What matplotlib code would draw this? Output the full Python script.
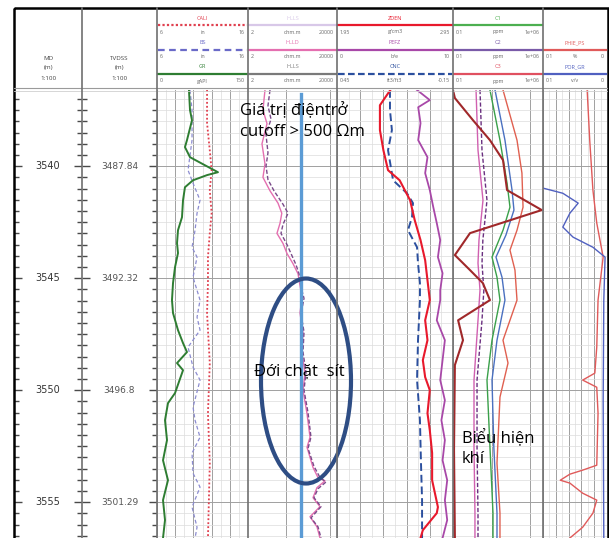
import matplotlib.pyplot as plt
from matplotlib.patches import Ellipse, Rectangle
from matplotlib.ticker import MultipleLocator, LogLocator

plt.rcParams['font.family'] = ['Open Sans', 'DejaVu Sans']
NARROW = ['Liberation Sans Narrow', 'DejaVu Sans']

W, H = 609, 538
fig = plt.figure(figsize=(W / 100, H / 100), dpi=100)

# layout in pixels
HEAD_TOP, HEAD_BOT = 8, 88
LOG_TOP, LOG_BOT = 90, 538
EDGES = [14, 82, 157, 248, 337, 453, 543, 607]
D_TOP, D_BOT = 3536.6, 3556.6

# depth ruler
md_marks = [3540, 3545, 3550, 3555]
tvd_marks = ['3487.84', '3492.32', '3496.8', '3501.29']

# track 1: GR / caliper / bit size
gr_depth = [3536.6, 3537.5, 3537.95, 3538.84, 3539.15, 3539.6, 3539.96, 3540.27, 3540.4,
            3540.63, 3540.94, 3541.52, 3542.28, 3542.86, 3543.44, 3543.88, 3544.51, 3545.22,
            3545.98, 3546.56, 3547.32, 3547.9, 3548.3, 3548.79, 3549.11, 3550.13, 3550.58,
            3551.34, 3552.23, 3553.13, 3554.02, 3554.91, 3555.8, 3556.6]
gr = [52.7, 54.4, 57.7, 49.4, 46.1, 54.4, 79.1, 100.5, 82.4, 59.3, 46.1, 42.9, 41.2, 34.6,
      33.0, 34.6, 29.7, 26.4, 24.7, 26.4, 34.6, 42.9, 49.4, 33.0, 42.9, 29.7, 18.1, 13.2,
      16.5, 9.9, 18.1, 9.9, 13.2, 9.9]

cali_depth = [3536.6, 3538.08, 3539.29, 3540.18, 3541.07, 3542.1, 3542.99, 3544.06, 3545.22,
              3546.56, 3548.79, 3551.03, 3553.26, 3556.6]
cali = [11.5, 11.5, 11.8, 12.0, 11.8, 12.0, 11.8, 11.6, 11.6, 11.5, 11.8, 11.6, 11.8, 11.6]

bs_depth = [3536.6, 3537.5, 3538.84, 3540.18, 3540.76, 3541.52, 3542.1, 3542.86, 3543.62,
            3544.06, 3544.96, 3545.98, 3546.74, 3547.32, 3548.08, 3548.97, 3549.55, 3550.76,
            3551.34, 3552.1, 3552.81, 3553.71, 3554.33, 3555.22, 3556.12, 3556.6]
bs = [9.63, 9.85, 9.85, 9.41, 9.96, 10.73, 10.40, 10.18, 9.85, 10.40, 9.96, 10.73, 10.40,
      10.73, 9.41, 9.96, 10.73, 9.96, 10.18, 10.73, 9.85, 9.96, 10.73, 9.85, 10.40, 10.18]

# track 2: resistivity
hlld_depth = [3536.6, 3537.5, 3538.1, 3539.0, 3539.9, 3540.5, 3541.1, 3541.65, 3542.1, 3542.55,
              3543.0, 3543.45, 3543.9, 3544.35, 3544.8, 3545.85, 3546.55, 3547.45, 3548.35,
              3549.25, 3550.0, 3551.05, 3552.1, 3552.55, 3553.45, 3553.9, 3554.05, 3554.35,
              3554.8, 3555.2, 3555.65, 3556.1, 3556.6]
hlld = [11.6, 9.4, 14.3, 8.5, 11.6, 9.4, 19.5, 44.6, 66, 55, 40, 75, 113, 210, 353, 535, 435,
        593, 535, 730, 593, 898, 1225, 898, 1670, 2800, 5780, 2520, 1670, 3440, 1225, 2520, 3440]

hlls_depth = [3536.6, 3537.3, 3537.9, 3538.6, 3539.4, 3540.0, 3540.6, 3541.1, 3541.7, 3542.1,
              3542.6, 3543.0, 3543.5, 3543.9, 3544.4, 3544.8, 3545.4, 3545.9, 3546.6, 3547.4,
              3548.3, 3549.2, 3550.0, 3551.0, 3552.1, 3552.6, 3553.4, 3553.9, 3554.1, 3554.4,
              3554.8, 3555.2, 3555.7, 3556.1, 3556.6]
hlls = [19.5, 15.8, 21.6, 12.9, 15.8, 12.9, 15.8, 29.5, 74.8, 126, 74.8, 60.8, 113, 171, 287,
        392, 482, 658, 482, 658, 593, 809, 658, 995, 1355, 995, 1850, 3440, 6410, 2800, 1850,
        3820, 1355, 2800, 3820]

CUTOFF = 500  # ohm.m

# track 3: density / PEF / neutron
den_depth = [3536.6, 3537.28, 3538.39, 3539.29, 3540.18, 3540.63, 3541.52, 3542.41, 3543.3,
             3544.2, 3545.09, 3545.98, 3546.88, 3547.77, 3548.66, 3549.42, 3550.0, 3551.03,
             3551.79, 3552.81, 3554.02, 3555.22, 3555.49, 3556.25, 3556.6]
zden = [2.41, 2.32, 2.32, 2.35, 2.39, 2.49, 2.58, 2.62, 2.67, 2.71, 2.73, 2.75, 2.71, 2.73,
        2.69, 2.71, 2.75, 2.73, 2.75, 2.77, 2.77, 2.82, 2.81, 2.69, 2.67]

cnc_depth = [3536.6, 3537.5, 3538.39, 3539.29, 3540.63, 3541.21, 3541.65, 3542.28, 3542.86,
             3543.62, 3544.33, 3545.22, 3545.98, 3547.77, 3549.55, 3551.34, 3553.13, 3554.91,
             3556.6]
cnc = [0.176, 0.176, 0.166, 0.186, 0.160, 0.088, 0.057, 0.062, 0.083, 0.036, 0.031, 0.021,
       0.021, 0.031, 0.036, 0.021, 0.016, 0.010, 0.010]

pef_depth = [3536.6, 3537.05, 3537.37, 3538.08, 3538.84, 3539.6, 3540.31, 3541.07, 3541.83,
             3542.54, 3543.3, 3544.06, 3544.78, 3545.54, 3545.98, 3546.88, 3547.77, 3548.66,
             3549.55, 3550.45, 3551.34, 3552.23, 3553.13, 3554.02, 3554.91, 3555.8, 3556.6]
pefz = [6.9, 8.0, 7.0, 7.2, 7.0, 7.8, 7.6, 8.0, 8.3, 8.6, 8.9, 8.7, 9.1, 8.9, 8.9, 8.6, 9.3,
        9.1, 8.9, 9.3, 9.0, 9.3, 9.1, 9.5, 9.3, 9.5, 9.1]

# track 4: mud gas (ppm)
tg_depth = [3536.6, 3536.96, 3537.95, 3538.84, 3539.73, 3541.07, 3541.96, 3542.99, 3543.97,
            3544.64, 3545.22, 3545.98, 3546.88, 3547.77, 3548.88, 3552.68, 3556.6]
tg = [0.1, 0.14, 3.6, 75, 775, 1600, 800000, 2.1, 0.14, 2.1, 21, 75, 0.25, 0.6, 0.14, 0.12, 0.14]

c1_depth = [3536.6, 3538.84, 3540.76, 3541.83, 3542.86, 3544.06, 3544.96, 3545.98, 3547.77,
            3549.55, 3552.54, 3555.49, 3556.6]
c1 = [75, 450, 1600, 2700, 775, 108, 264, 450, 108, 44, 75, 129, 129]

c2_depth = [3536.6, 3539.29, 3541.52, 3543.3, 3544.33, 3545.54, 3546.88, 3549.55, 3552.54,
            3555.49, 3556.6]
c2 = [12.6, 18, 44, 21, 18, 25, 18, 7.4, 7.4, 8.8, 8.8]

c3_depth = [3536.6, 3538.84, 3540.31, 3541.83, 3542.86, 3543.75, 3544.64, 3545.98, 3547.77,
            3548.79, 3550.31, 3553.26, 3555.49, 3556.6]
c3 = [775, 9500, 23000, 28000, 9500, 2700, 6600, 9500, 775, 1900, 450, 264, 450, 450]

c4_depth = [3536.6, 3538.84, 3541.07, 3541.96, 3543.08, 3544.06, 3544.96, 3545.98, 3547.77,
            3549.55, 3552.54, 3555.49, 3556.6]
c4 = [185, 1100, 3900, 5500, 1300, 220, 650, 1100, 264, 108, 150, 264, 264]

c5_depth = [3536.6, 3539.29, 3541.52, 3543.3, 3544.33, 3545.54, 3546.88, 3549.55, 3552.54,
            3555.49, 3556.6]
c5 = [6.2, 8.8, 21.5, 10.5, 8.8, 12.6, 8.8, 4.3, 4.3, 5.1, 5.1]

# track 5: porosity
por_depth = [3540.98, 3541.21, 3541.65, 3542.1, 3542.72, 3543.17, 3543.62, 3544.06, 3545.98,
             3550.45, 3556.6]
por_gr = [0.100, 0.069, 0.045, 0.058, 0.069, 0.053, 0.022, 0.003, 0.005, 0.006, 0.005]

phie_depth = [3536.6, 3538.84, 3541.07, 3542.54, 3544.06, 3545.98, 3548.08, 3549.24, 3549.55,
              3549.87, 3551.03, 3553.35, 3553.57, 3553.75, 3554.02, 3554.15, 3554.6, 3554.91,
              3555.49, 3556.12, 3556.6]
phie = [0.031, 0.027, 0.022, 0.016, 0.006, 0.014, 0.016, 0.019, 0.038, 0.016, 0.014, 0.016,
        0.038, 0.058, 0.073, 0.058, 0.038, 0.016, 0.022, 0.038, 0.058]


def rect(x0, x1, y0=LOG_TOP, y1=LOG_BOT):
    # pixel box -> figure fraction
    return [x0 / W, 1 - y1 / H, (x1 - x0) / W, (y1 - y0) / H]


def track(x0, x1, lo, hi, log=False, subs=(3,)):
    ax = fig.add_axes(rect(x0, x1))
    if log:
        ax.set_xscale('log')
    ax.set_xlim(lo, hi)
    ax.set_ylim(D_BOT, D_TOP)
    ax.yaxis.set_major_locator(MultipleLocator(5))
    ax.yaxis.set_minor_locator(MultipleLocator(0.5))
    if log:
        ax.xaxis.set_major_locator(LogLocator(10))
        ax.xaxis.set_minor_locator(LogLocator(10, subs=subs))
    else:
        step = abs(hi - lo) / 10
        ax.xaxis.set_major_locator(MultipleLocator(step * 2, offset=lo))
        ax.xaxis.set_minor_locator(MultipleLocator(step, offset=lo))
    ax.grid(which='minor', color='#dcdcdc', lw=0.5)
    ax.grid(which='major', color='#a0a0a0', lw=0.7)
    ax.tick_params(which='both', length=0, labelbottom=False, labelleft=False)
    for s in ax.spines.values():
        s.set_visible(False)
    return ax


def curve(x0, x1, lo, hi, depth, values, log=False, **style):
    ax = fig.add_axes(rect(x0, x1))
    if log:
        ax.set_xscale('log')
    ax.set_xlim(lo, hi)
    ax.set_ylim(D_BOT, D_TOP)
    ax.axis('off')
    ax.plot(values, depth, **style)
    return ax


# depth rulers
md_ax = fig.add_axes(rect(EDGES[0], EDGES[1]))
tvd_ax = fig.add_axes(rect(EDGES[1], EDGES[2]))
for ax in (md_ax, tvd_ax):
    ax.set_ylim(D_BOT, D_TOP)
    ax.set_xticks([])
    ax.yaxis.set_major_locator(MultipleLocator(5))
    ax.yaxis.set_minor_locator(MultipleLocator(0.5))
    ax.tick_params(axis='y', which='both', left=True, right=True, direction='in',
                   labelleft=False, color='#4a4a4a', width=1.0)
    ax.tick_params(axis='y', which='major', length=6)
    ax.tick_params(axis='y', which='minor', length=3.5)
    for s in ax.spines.values():
        s.set_visible(False)
for md, tvd in zip(md_marks, tvd_marks):
    md_ax.text(0.5, md, str(md), transform=md_ax.get_yaxis_transform(), ha='center',
               va='center', fontsize=7, color='#333333', family=NARROW)
    tvd_ax.text(0.5, md, tvd, transform=tvd_ax.get_yaxis_transform(), ha='center',
                va='center', fontsize=6.5, color='#555555', family=NARROW)

# track grids
track(EDGES[2], EDGES[3], 0, 150)
track(EDGES[3], EDGES[4], 2, 20000, log=True, subs=(2, 5))
track(EDGES[4], EDGES[5], 1.95, 2.95)
track(EDGES[5], EDGES[6], 0.1, 1e6, log=True)
track(EDGES[6], EDGES[7], 0.1, 0)

# track 1
curve(EDGES[2], EDGES[3], 6, 16, bs_depth, bs, color='#8c8cd0', lw=0.9, ls=(0, (3, 2)))
curve(EDGES[2], EDGES[3], 6, 16, cali_depth, cali, color='#e0404f', lw=1.3, ls=(0, (1, 1.2)))
curve(EDGES[2], EDGES[3], 0, 150, gr_depth, gr, color='#2e7d32', lw=1.4)

# track 2
curve(EDGES[3], EDGES[4], 2, 20000, hlld_depth, hlld, log=True, color='#e46fb0', lw=1.0)
curve(EDGES[3], EDGES[4], 2, 20000, hlls_depth, hlls, log=True, color='#7a4a8a', lw=1.0,
      ls=(0, (3, 1.5)))

# track 3
curve(EDGES[4], EDGES[5], 0, 10, pef_depth, pefz, color='#a848a8', lw=1.3)
curve(EDGES[4], EDGES[5], 0.45, -0.15, cnc_depth, cnc, color='#2b4f9e', lw=1.4,
      ls=(0, (4, 2)))
curve(EDGES[4], EDGES[5], 1.95, 2.95, den_depth, zden, color='#e8192c', lw=1.5)

# track 4
for d, v, col, ls in [(c5_depth, c5, '#d060b0', '-'),
                      (c2_depth, c2, '#6a3080', (0, (3, 1.5))),
                      (c1_depth, c1, '#3aa04a', '-'),
                      (c4_depth, c4, '#4a70c0', '-'),
                      (c3_depth, c3, '#e06050', '-')]:
    curve(EDGES[5], EDGES[6], 0.1, 1e6, d, v, log=True, color=col, lw=1.0, ls=ls)
curve(EDGES[5], EDGES[6], 0.1, 1e6, tg_depth, tg, log=True, color='#a0282a', lw=1.5)

# track 5
curve(EDGES[6], EDGES[7], 0.1, 0, phie_depth, phie, color='#e05a5a', lw=1.0)
curve(EDGES[6], EDGES[7], 0.1, 0, por_depth, por_gr, color='#5060c0', lw=1.0)

# resistivity cutoff
cut_ax = curve(EDGES[3], EDGES[4], 2, 20000, [3536.8, D_BOT], [CUTOFF, CUTOFF], log=True,
               color='#5b9bd5', lw=2.4)

# header, separators and annotations in pixel space
ov = fig.add_axes([0, 0, 1, 1])
ov.set_xlim(0, W)
ov.set_ylim(H, 0)
ov.axis('off')

headers = {
    2: [('CALI', '#e0404f', (0, (1, 1)), '6', 'in', '16'),
        ('BS', '#6a6ac8', (0, (3, 2)), '6', 'in', '16'),
        ('GR', '#2e7d32', '-', '0', 'gAPI', '150')],
    3: [('HLLS', '#d8c8e8', '-', '2', 'ohm.m', '20000'),
        ('HLLD', '#e46fb0', '-', '2', 'ohm.m', '20000'),
        ('HLLS', '#7a7a7a', '-', '2', 'ohm.m', '20000')],
    4: [('ZDEN', '#e8192c', '-', '1.95', 'g/cm3', '2.95'),
        ('PEFZ', '#a848a8', '-', '0', 'b/e', '10'),
        ('CNC', '#2b4f9e', (0, (3, 1.5)), '0.45', 'ft3/ft3', '-0.15')],
    5: [('C1', '#4caf50', '-', '0.1', 'ppm', '1e+06'),
        ('C2', '#7a5aa8', '-', '0.1', 'ppm', '1e+06'),
        ('C3', '#e05060', '-', '0.1', 'ppm', '1e+06')],
    6: [None,
        ('PHIE_PS', '#e05a5a', '-', '0.1', '%', '0'),
        ('POR_GR', '#5060c0', '-', '0.1', 'v/v', '0')],
}
for i, rows in headers.items():
    x0, x1 = EDGES[i], EDGES[i + 1]
    for r, row in enumerate(rows):
        if row is None:
            continue
        name, col, ls, lo, unit, hi = row
        y = 18 + r * 24.5
        ov.text((x0 + x1) / 2, y, name, color=col, fontsize=4, ha='center', va='center')
        ov.plot([x0 + 1, x1 - 1], [y + 7, y + 7], color=col, ls=ls, lw=1.6)
        kw = dict(fontsize=3.8, va='center', color='#666666')
        ov.text(x0 + 3, y + 14, lo, ha='left', **kw)
        ov.text((x0 + x1) / 2, y + 14, unit, ha='center', **kw)
        ov.text(x1 - 3, y + 14, hi, ha='right', **kw)

for x, name in [((EDGES[0] + EDGES[1]) / 2, 'MD'), ((EDGES[1] + EDGES[2]) / 2, 'TVDSS')]:
    for k, s in enumerate([name, '(m)', '1:100']):
        ov.text(x, 58 + k * 10, s, ha='center', va='center', fontsize=4.5, color='#444444')

ov.plot([EDGES[0], EDGES[-1]], [HEAD_BOT, HEAD_BOT], color='#9a9a9a', lw=0.8)
ov.plot([EDGES[0], EDGES[-1]], [HEAD_BOT + 3, HEAD_BOT + 3], color='#d0d0d0', lw=0.6)
for x in EDGES[1:-1]:
    ov.plot([x, x], [HEAD_TOP, H], color='#707070', lw=1.2)
ov.add_patch(Rectangle((13.5, 7.5), 594, 540, fill=False, ec='black', lw=1.8, clip_on=False))

ov.add_patch(Ellipse((306, 381), 90, 205, fill=False, ec='#2e4d84', lw=3.0))
ov.text(240, 111, 'Giá trị điệntrở', fontsize=12, va='center', ha='left')
ov.text(240, 132, 'cutoff > 500 Ωm', fontsize=12, va='center', ha='left')
ov.text(254, 371, 'Đới chặt  sít', fontsize=12, va='center', ha='left')
ov.text(462, 438, 'Biểu hiện', fontsize=12, va='center', ha='left')
ov.text(462, 459, 'khí', fontsize=12, va='center', ha='left')

fig.savefig('out.png', dpi=100)
